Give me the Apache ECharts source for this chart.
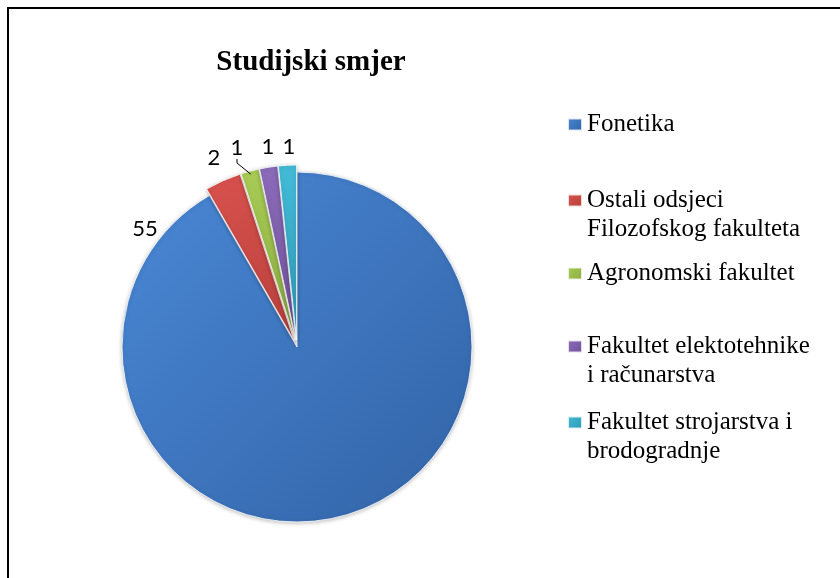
<!DOCTYPE html>
<html>
<head>
<meta charset="utf-8">
<script src="https://cdn.jsdelivr.net/npm/echarts@6/dist/echarts.min.js"></script>
<style>
  html, body { margin: 0; padding: 0; background: #fff; }
  #chart { width: 840px; height: 578px; }
</style>
</head>
<body>
<div id="chart"></div>
<script>
// chart data
const categories = [
  'Fonetika',
  'Ostali odsjeci\nFilozofskog fakulteta',
  'Agronomski fakultet',
  'Fakultet elektotehnike\ni računarstva',
  'Fakultet strojarstva i\nbrodogradnje'
]
const values = [55, 2, 1, 1, 1]
const colorsTop = ['#4a88d6', '#d9524e', '#a9cc55', '#8c6cba', '#43bcd8']
const colorsBottom = ['#3263a6', '#b7403c', '#8aab42', '#6e519a', '#2f97b3']

const center = [297, 347]
const radius = 175
const legendTops = [123, 199, 272, 345, 421]
// label offsets from pie center (best fit like in the original)
const labelOffsets = [[-152, -118], [-83, -189], [-60, -199], [-29, -200], [-8, -200]]

const chart = echarts.init(document.getElementById('chart'))

function grad(i) {
  return new echarts.graphic.LinearGradient(0, 0, 1, 1, [
    { offset: 0, color: colorsTop[i] },
    { offset: 1, color: colorsBottom[i] }
  ])
}

const serif = {
  fontFamily: 'Liberation Serif',
  fontSize: 25,
  color: '#000',
  lineHeight: 29
}

const legends = categories.map((name, i) => {
  const lines = name.split('\n')
  return {
    orient: 'vertical',
    left: 562,
    top: legendTops[i] - 18 - (lines.length - 1) * 29,
    icon: 'rect',
    itemWidth: 14,
    itemHeight: 12,
    itemGap: 0,
    selectedMode: false,
    data: [name],
    formatter: function() {
      const txt = lines.map(l => '{s|' + l + '}').join('\n')
      return lines.length > 1 ? '{s| }\n' + txt : txt
    },
    textStyle: Object.assign({ rich: { s: serif } }, serif)
  }
})

const option = {
  animation: false,
  textStyle: { fontFamily: 'Liberation Serif' },
  title: {
    text: 'Studijski smjer',
    left: 306,
    top: 43,
    textAlign: 'center',
    textStyle: {
      fontFamily: 'Liberation Serif',
      fontWeight: 'bold',
      fontSize: 29,
      color: '#000'
    }
  },
  legend: legends,
  graphic: [
    {
      type: 'rect',
      shape: { x: 8, y: 8, width: 900, height: 700 },
      style: { fill: 'none', stroke: '#000', lineWidth: 2 },
      silent: true
    }
  ],
  series: [
    {
      type: 'pie',
      center: center,
      radius: radius,
      startAngle: 90,
      clockwise: true,
      selectedMode: 'multiple',
      selectedOffset: 7,
      itemStyle: {
        borderColor: 'rgba(255,255,255,0.8)',
        borderWidth: 1,
        shadowColor: 'rgba(0,0,0,0.25)',
        shadowBlur: 4,
        shadowOffsetY: 1
      },
      label: { show: false },
      labelLine: { show: false },
      data: categories.map((name, i) => ({
        name: name,
        value: values[i],
        selected: i > 0,
        itemStyle: { color: grad(i) }
      }))
    },
    {
      // same data again, only to carry the value labels
      type: 'pie',
      center: center,
      radius: radius + 4,
      startAngle: 90,
      clockwise: true,
      silent: true,
      z: 3,
      avoidLabelOverlap: false,
      itemStyle: { color: 'rgba(0,0,0,0)' },
      emphasis: { disabled: true },
      label: {
        position: 'outside',
        formatter: '{c}',
        fontFamily: 'Lato',
        fontSize: 22,
        color: '#000'
      },
      labelLine: {
        show: false,
        length: 4,
        length2: 4,
        lineStyle: { color: '#000', width: 1 }
      },
      labelLayout: function(params) {
        const o = labelOffsets[params.dataIndex]
        return { x: center[0] + o[0], y: center[1] + o[1], align: 'center', verticalAlign: 'middle' }
      },
      data: categories.map((name, i) => ({
        name: name,
        value: values[i],
        labelLine: { show: i === 2 }
      }))
    }
  ]
}

chart.setOption(option)
</script>
</body>
</html>
